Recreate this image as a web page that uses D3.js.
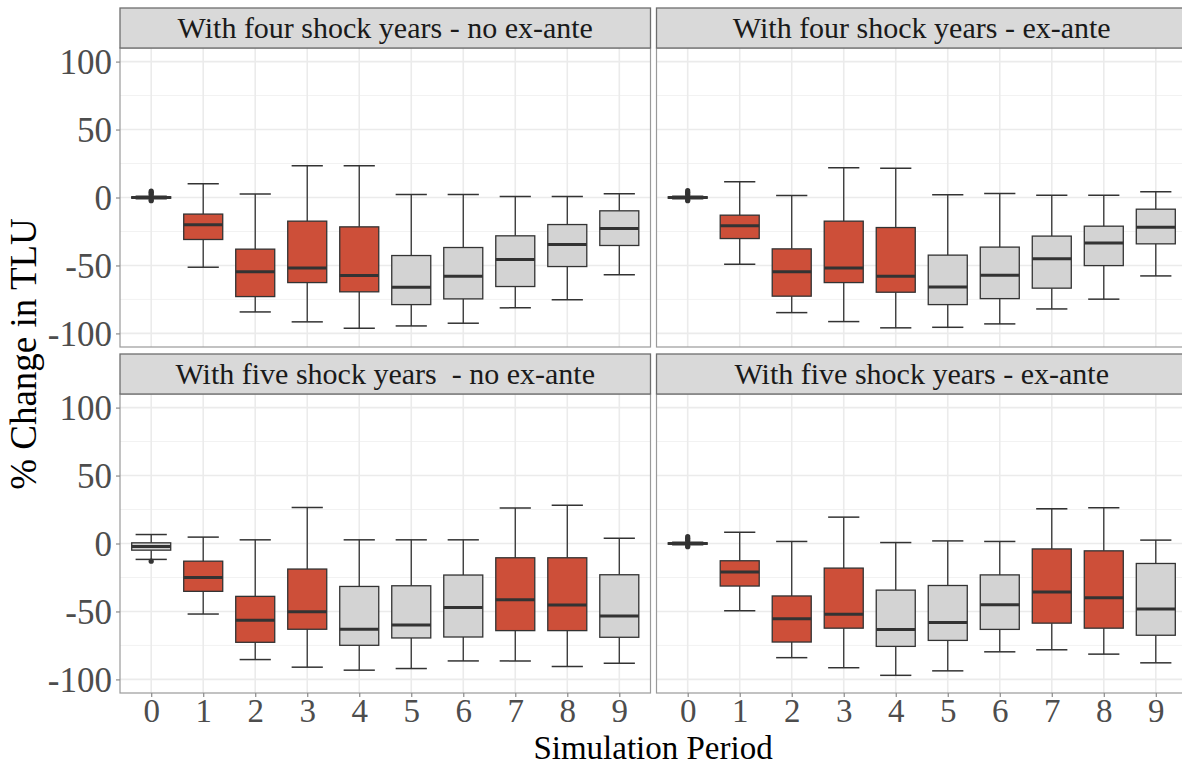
<!DOCTYPE html>
<html>
<head>
<meta charset="utf-8">
<script src="https://cdn.jsdelivr.net/npm/d3@7"></script>
<style>
  html, body { margin: 0; padding: 0; background: #ffffff; }
  svg { display: block; }
</style>
</head>
<body>
<svg id="chart" width="1182" height="767"></svg>
<script>
// ---------------- data ----------------
const periods = [0, 1, 2, 3, 4, 5, 6, 7, 8, 9];
const yTicks = [-100, -50, 0, 50, 100];
const yMinorTicks = [-75, -25, 25, 75];
const panelTitles = [
  "With four shock years - no ex-ante",
  "With four shock years - ex-ante",
  "With five shock years  - no ex-ante",
  "With five shock years - ex-ante"
];
// each entry: [lower whisker, q1, median, q3, upper whisker], one per period 0..9
const fourNoExAnte = [
  [-1, -0.5, 0, 0.5, 1],
  [-51.3, -30.9, -20.1, -12.2, 10.1],
  [-84.2, -72.9, -54.7, -38.0, 2.5],
  [-91.5, -62.6, -51.8, -17.4, 23.3],
  [-96.2, -69.4, -57.4, -21.6, 23.3],
  [-94.5, -78.8, -66.0, -42.7, 2.2],
  [-92.5, -74.6, -57.9, -36.8, 2.2],
  [-81.2, -65.5, -45.7, -28.2, 0.7],
  [-75.3, -50.8, -34.6, -19.9, 0.7],
  [-56.9, -35.3, -22.8, -9.8, 2.7]
];
const fourExAnte = [
  [-1, -0.5, 0, 0.5, 1],
  [-49.1, -30.2, -20.8, -13.0, 11.6],
  [-84.7, -72.6, -54.7, -37.8, 1.5],
  [-91.3, -62.6, -51.8, -17.4, 21.9],
  [-95.9, -69.7, -57.9, -22.1, 21.6],
  [-95.5, -78.8, -65.8, -42.4, 2.0],
  [-93.0, -74.4, -57.2, -36.5, 3.0],
  [-82.0, -66.7, -45.1, -28.4, 1.7],
  [-74.8, -50.1, -33.4, -21.1, 1.7],
  [-57.7, -34.1, -21.8, -8.6, 4.2]
];
const fiveNoExAnte = [
  [-11.7, -4.9, -2.2, 0.5, 6.6],
  [-51.9, -35.2, -25.0, -13.0, 4.7],
  [-85.4, -72.7, -56.5, -38.9, 2.7],
  [-91.0, -63.1, -50.2, -18.8, 26.4],
  [-93.2, -74.9, -63.1, -31.6, 2.7],
  [-92.0, -69.5, -60.0, -31.1, 2.7],
  [-86.4, -68.8, -47.0, -23.2, 2.7],
  [-86.4, -64.1, -41.4, -10.5, 26.2],
  [-90.5, -64.1, -45.3, -10.5, 28.1],
  [-88.1, -69.0, -53.4, -23.0, 3.9]
];
const fiveExAnte = [
  [-1, -0.5, 0, 0.5, 1],
  [-49.4, -31.3, -21.0, -12.7, 8.2],
  [-84.0, -72.5, -55.3, -38.6, 1.5],
  [-91.4, -62.3, -52.0, -18.1, 19.4],
  [-97.0, -75.7, -63.2, -34.3, 0.7],
  [-93.7, -71.3, -58.1, -30.9, 1.9],
  [-79.7, -63.2, -45.0, -23.1, 1.5],
  [-78.2, -58.6, -35.6, -4.0, 25.5],
  [-81.4, -62.3, -40.0, -5.4, 26.3],
  [-87.8, -67.5, -48.2, -14.7, 2.5]
];
// outliers for period 0, per panel
const fourNoExAnteOutliers = [1.8, 2.8, 3.8, 4.8, -1.6, -2.4];
const fourExAnteOutliers = [1.8, 2.8, 3.8, 5.0, -1.6, -2.4];
const fiveNoExAnteOutliers = [-13.0];
const fiveExAnteOutliers = [1.8, 2.8, 3.8, 5.0, -1.6, -2.4];
// shock periods (drawn in red) per panel
const fourNoExAnteShocks = [1, 2, 3, 4];
const fourExAnteShocks = [1, 2, 3, 4];
const fiveNoExAnteShocks = [1, 2, 3, 7, 8];
const fiveExAnteShocks = [1, 2, 3, 7, 8];

const panels = [
  { title: panelTitles[0], stats: fourNoExAnte, out: fourNoExAnteOutliers, shocks: fourNoExAnteShocks, col: 0, row: 0 },
  { title: panelTitles[1], stats: fourExAnte, out: fourExAnteOutliers, shocks: fourExAnteShocks, col: 1, row: 0 },
  { title: panelTitles[2], stats: fiveNoExAnte, out: fiveNoExAnteOutliers, shocks: fiveNoExAnteShocks, col: 0, row: 1 },
  { title: panelTitles[3], stats: fiveExAnte, out: fiveExAnteOutliers, shocks: fiveExAnteShocks, col: 1, row: 1 }
];

// ---------------- layout ----------------
const FONT = "'Liberation Serif', 'Times New Roman', serif";
const colX = [120, 656.5];
const panelW = 530.5;
const stripTop = [8, 354];
const stripH = 40;
const panelH = 299;
const shockFill = "#CD4F39";
const normalFill = "#D3D3D3";
const lineCol = "#333333";

const svg = d3.select("#chart");

panels.forEach(p => {
  const x0 = colX[p.col];
  const sTop = stripTop[p.row];
  const pTop = sTop + stripH;
  const pBot = pTop + panelH;

  const x = d3.scalePoint().domain(periods).range([x0, x0 + panelW]).padding(0.6);
  const y = d3.scaleLinear().domain([-110, 110]).range([pBot, pTop]);
  const step = x.step();

  const g = svg.append("g");
  const clipId = "clip" + p.col + p.row;
  svg.append("clipPath").attr("id", clipId)
    .append("rect").attr("x", x0).attr("y", pTop).attr("width", panelW).attr("height", panelH);

  const inner = g.append("g").attr("clip-path", `url(#${clipId})`);
  // grid
  inner.selectAll(".ymin").data(yMinorTicks).join("line")
    .attr("x1", x0).attr("x2", x0 + panelW)
    .attr("y1", d => y(d)).attr("y2", d => y(d))
    .attr("stroke", "#F2F2F2").attr("stroke-width", 1);
  inner.selectAll(".ymaj").data(yTicks).join("line")
    .attr("x1", x0).attr("x2", x0 + panelW)
    .attr("y1", d => y(d)).attr("y2", d => y(d))
    .attr("stroke", "#EBEBEB").attr("stroke-width", 1.6);
  inner.selectAll(".xmaj").data(periods).join("line")
    .attr("x1", d => x(d)).attr("x2", d => x(d))
    .attr("y1", pTop).attr("y2", pBot)
    .attr("stroke", "#EBEBEB").attr("stroke-width", 1.6);

  // boxes
  const boxW = step * 0.75;
  const capW = step * 0.6;
  const bx = inner.selectAll(".box").data(p.stats.map((s, i) => ({ s, per: periods[i] }))).join("g");
  // whiskers
  bx.append("line")
    .attr("x1", d => x(d.per)).attr("x2", d => x(d.per))
    .attr("y1", d => y(d.s[4])).attr("y2", d => y(d.s[3]))
    .attr("stroke", lineCol).attr("stroke-width", 1.3);
  bx.append("line")
    .attr("x1", d => x(d.per)).attr("x2", d => x(d.per))
    .attr("y1", d => y(d.s[1])).attr("y2", d => y(d.s[0]))
    .attr("stroke", lineCol).attr("stroke-width", 1.3);
  // caps
  [0, 4].forEach(k => {
    bx.append("line")
      .attr("x1", d => x(d.per) - capW / 2).attr("x2", d => x(d.per) + capW / 2)
      .attr("y1", d => y(d.s[k])).attr("y2", d => y(d.s[k]))
      .attr("stroke", lineCol).attr("stroke-width", 1.5);
  });
  // box
  bx.append("rect")
    .attr("x", d => x(d.per) - boxW / 2)
    .attr("width", boxW)
    .attr("y", d => y(d.s[3]))
    .attr("height", d => Math.max(0.5, y(d.s[1]) - y(d.s[3])))
    .attr("fill", d => p.shocks.includes(d.per) ? shockFill : normalFill)
    .attr("stroke", lineCol).attr("stroke-width", 1.3);
  // median
  bx.append("line")
    .attr("x1", d => x(d.per) - boxW / 2).attr("x2", d => x(d.per) + boxW / 2)
    .attr("y1", d => y(d.s[2])).attr("y2", d => y(d.s[2]))
    .attr("stroke", lineCol).attr("stroke-width", 3);
  // outliers (period 0)
  inner.selectAll(".out").data(p.out).join("circle")
    .attr("cx", x(periods[0])).attr("cy", d => y(d)).attr("r", 2.6)
    .attr("fill", lineCol);

  // panel border
  g.append("rect").attr("x", x0).attr("y", pTop).attr("width", panelW).attr("height", panelH)
    .attr("fill", "none").attr("stroke", "#9A9A9A").attr("stroke-width", 1.2);

  // strip
  g.append("rect").attr("x", x0).attr("y", sTop).attr("width", panelW).attr("height", stripH)
    .attr("fill", "#D9D9D9").attr("stroke", "#6E6E6E").attr("stroke-width", 1.3);
  g.append("text")
    .attr("x", x0 + panelW / 2).attr("y", sTop + stripH / 2 + 10)
    .attr("text-anchor", "middle")
    .attr("font-family", FONT).attr("font-size", 30).attr("fill", "#1A1A1A")
    .attr("xml:space", "preserve")
    .style("white-space", "pre")
    .text(p.title);

  // y axis on left column
  if (p.col === 0) {
    const ya = d3.axisLeft(y).tickValues(yTicks).tickSize(4).tickPadding(4).tickFormat(d => String(d));
    const ag = g.append("g").attr("transform", `translate(${x0},0)`).call(ya);
    ag.select(".domain").remove();
    ag.selectAll(".tick line").attr("stroke", "#8A8A8A").attr("stroke-width", 1.2);
    ag.selectAll(".tick text").attr("font-family", FONT).attr("font-size", 35).attr("fill", "#4D4D4D")
      .attr("dy", "0.34em");
  }
  // x axis on bottom row
  if (p.row === 1) {
    const xa = d3.axisBottom(x).tickSize(4).tickPadding(2);
    const ag = g.append("g").attr("transform", `translate(0,${pBot})`).call(xa);
    ag.select(".domain").remove();
    ag.selectAll(".tick line").attr("stroke", "#8A8A8A").attr("stroke-width", 1.2);
    ag.selectAll(".tick text").attr("font-family", FONT).attr("font-size", 33).attr("fill", "#4D4D4D")
      .attr("dy", "0.7em");
  }
});

// axis titles
svg.append("text")
  .attr("x", 653).attr("y", 759)
  .attr("text-anchor", "middle")
  .attr("font-family", FONT).attr("font-size", 33).attr("fill", "#000")
  .text("Simulation Period");
svg.append("text")
  .attr("transform", "translate(36,354) rotate(-90)")
  .attr("text-anchor", "middle")
  .attr("font-family", FONT).attr("font-size", 37).attr("fill", "#000")
  .text("% Change in TLU");
</script>
</body>
</html>
